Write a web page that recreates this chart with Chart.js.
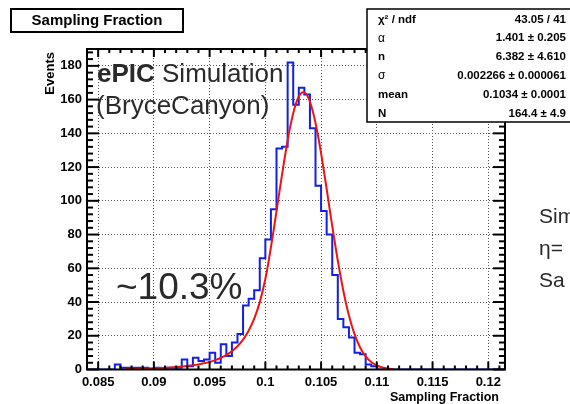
<!DOCTYPE html>
<html>
<head>
<meta charset="utf-8">
<script src="https://cdn.jsdelivr.net/npm/chart.js@4"></script>
<style>
  body { margin: 0; background: #fff; }
  canvas { display: block; }
</style>
</head>
<body>
<canvas id="sf-chart" width="570" height="404"></canvas>
<script>
// histogram: 0.0005 wide bins starting at 0.084
const histMin  = 0.084
const histMax  = 0.1215
const binWidth = 0.0005
const counts = [
  2, 0, 0, 0, 0, 0, 3, 1, 1, 1, 1, 1, 0, 1, 0, 1, 1, 1, 6, 2,
  7, 5, 6, 10, 4, 15, 8, 16, 21, 38, 42, 47, 66, 77, 95, 131, 132, 182, 157, 167,
  163, 143, 109, 94, 80, 56, 30, 25, 19, 10, 9, 3, 2, 0, 0, 0, 0, 0, 0, 0,
  0, 0, 0, 0, 0, 0, 0, 0, 0, 0, 0, 0, 0, 0, 0
]

// red fit curve
const fitX = [
  0.0875, 0.088, 0.0885, 0.089, 0.0895, 0.090, 0.0905, 0.091, 0.0915, 0.092,
  0.0925, 0.093, 0.0935, 0.094, 0.0945, 0.095, 0.0955, 0.096, 0.0965, 0.097,
  0.0975, 0.098, 0.0985, 0.099, 0.0995, 0.100, 0.10025, 0.1005, 0.10075, 0.101,
  0.10125, 0.1015, 0.10175, 0.102, 0.10225, 0.1025, 0.10275, 0.103, 0.10325, 0.1034,
  0.1035, 0.10375, 0.104, 0.10425, 0.1045, 0.10475, 0.105, 0.10525, 0.1055, 0.10575,
  0.106, 0.10625, 0.1065, 0.10675, 0.107, 0.10725, 0.1075, 0.10775, 0.108, 0.1085,
  0.109, 0.1095, 0.110, 0.1105, 0.111, 0.1115
]
const fitY = [
  0.37, 0.42, 0.49, 0.56, 0.65, 0.76, 0.89, 1.05, 1.24, 1.46,
  1.74, 2.09, 2.51, 3.03, 3.69, 4.51, 5.56, 6.90, 8.62, 10.87,
  13.81, 17.73, 22.97, 30.11, 39.94, 53.69, 62.55, 72.48, 82.96, 93.83,
  104.82, 115.67, 126.11, 135.83, 144.55, 151.93, 157.77, 161.86, 164.04, 164.4,
  164.24, 162.45, 158.74, 153.23, 146.13, 137.66, 128.13, 117.81, 107.01, 96.01,
  85.12, 74.54, 64.49, 55.12, 46.54, 38.82, 31.99, 26.04, 20.94, 13.06,
  7.76, 4.39, 2.36, 1.21, 0.59, 0.28
]

const xTicks = [0.085, 0.09, 0.095, 0.1, 0.105, 0.11, 0.115, 0.12]
const yTicks = [0, 20, 40, 60, 80, 100, 120, 140, 160, 180]

const statLabels = ['χ² / ndf', 'α', 'n', 'σ', 'mean', 'N']
const statValues = ['43.05 / 41', '1.401 ± 0.205', '6.382 ± 4.610',
                    '0.002266 ± 0.000061', '0.1034 ± 0.0001', '164.4 ± 4.9']
const sideLines = ['Sim', 'η=', 'Sa']

const FONT = '"Liberation Sans", Arial, Helvetica, sans-serif'

const histPoints = counts.map((c, i) => ({ x: histMin + i * binWidth, y: c }))
histPoints.push({ x: histMin + counts.length * binWidth, y: counts[counts.length - 1] })
const fitPoints = fitX.map((x, i) => ({ x, y: fitY[i] }))

function line(ctx, x1, y1, x2, y2) {
  ctx.beginPath()
  ctx.moveTo(x1, y1)
  ctx.lineTo(x2, y2)
  ctx.stroke()
}

// ROOT-ish decorations: inward ticks, frame, labels, boxes
const decor = {
  id: 'decor',
  afterDatasetsDraw(chart) {
    const { ctx, chartArea: a, scales: { x, y } } = chart
    ctx.save()
    ctx.strokeStyle = '#000'
    ctx.lineWidth = 2

    for (let v = 0; v <= 190; v += 4) {
      const py = y.getPixelForValue(v)
      const len = v % 20 === 0 ? 12 : 6
      line(ctx, a.left, py, a.left + len, py)
      line(ctx, a.right, py, a.right - len, py)
    }
    for (let i = 85; i <= 121; i++) {
      const px = x.getPixelForValue(i / 1000)
      const len = i % 5 === 0 ? 8 : 4
      line(ctx, px, a.bottom, px, a.bottom - len)
      line(ctx, px, a.top, px, a.top + len)
    }
    ctx.strokeRect(a.left, a.top, a.right - a.left, a.bottom - a.top)

    // axis titles
    ctx.fillStyle = '#000'
    ctx.font = `bold 12.5px ${FONT}`
    ctx.textAlign = 'right'
    ctx.textBaseline = 'middle'
    ctx.fillText('Sampling Fraction', 499, 398)
    ctx.save()
    ctx.translate(50, 52)
    ctx.rotate(-Math.PI / 2)
    ctx.font = `bold 13px ${FONT}`
    ctx.fillText('Events', 0, 0)
    ctx.restore()

    // annotations
    ctx.fillStyle = '#2a2a2a'
    ctx.textAlign = 'left'
    ctx.textBaseline = 'alphabetic'
    ctx.font = `bold 26px ${FONT}`
    ctx.fillText('ePIC', 97, 82)
    const w = ctx.measureText('ePIC ').width
    ctx.font = `26px ${FONT}`
    ctx.fillText('Simulation', 97 + w, 82)
    ctx.fillText('(BryceCanyon)', 96, 114)
    ctx.font = `37px ${FONT}`
    ctx.fillText('~10.3%', 116, 299)
    ctx.font = `21px ${FONT}`
    sideLines.forEach((t, i) => ctx.fillText(t, 539, 223 + i * 32))

    // title box
    ctx.fillStyle = '#fff'
    ctx.fillRect(11, 9, 172, 23)
    ctx.strokeRect(11, 9, 172, 23)
    ctx.fillStyle = '#000'
    ctx.font = `bold 15px ${FONT}`
    ctx.textAlign = 'center'
    ctx.textBaseline = 'middle'
    ctx.fillText('Sampling Fraction', 97, 21)

    // stats box
    ctx.fillStyle = '#fff'
    ctx.fillRect(367, 9, 210, 113)
    ctx.lineWidth = 1.5
    ctx.strokeRect(367, 9, 210, 113)
    ctx.fillStyle = '#000'
    statLabels.forEach((t, i) => {
      const ry = 19.5 + i * 18.8
      ctx.textAlign = 'left'
      ctx.font = (t === 'α' || t === 'σ') ? `12px ${FONT}` : `bold 11.5px ${FONT}`
      ctx.fillText(t, 378, ry)
      ctx.textAlign = 'right'
      ctx.font = `bold 11.5px ${FONT}`
      ctx.fillText(statValues[i], 566, ry)
    })
    ctx.restore()
  }
}

new Chart(document.getElementById('sf-chart').getContext('2d'), {
  type: 'line',
  data: {
    datasets: [
      {
        data: fitPoints,
        borderColor: '#ee1414',
        borderWidth: 2,
        pointRadius: 0,
        cubicInterpolationMode: 'monotone',
        fill: false
      },
      {
        data: histPoints,
        borderColor: '#1020e6',
        borderWidth: 2,
        pointRadius: 0,
        stepped: 'after',
        fill: false
      }
    ]
  },
  options: {
    responsive: false,
    animation: false,
    devicePixelRatio: 1,
    layout: { padding: { left: 0, top: 49, right: 65, bottom: 0 } },
    plugins: { legend: { display: false }, tooltip: { enabled: false } },
    scales: {
      x: {
        type: 'linear',
        min: histMin,
        max: histMax,
        afterBuildTicks: s => { s.ticks = xTicks.map(v => ({ value: v })) },
        afterFit: s => { s.height = 34.5 },
        grid: { color: '#555', lineWidth: 1, drawTicks: false },
        border: { display: false, dash: [1, 2] },
        ticks: {
          color: '#000',
          padding: 5,
          maxRotation: 0,
          autoSkip: false,
          font: { family: FONT, size: 13, weight: 'bold' },
          callback: v => String(+v.toFixed(3))
        }
      },
      y: {
        min: 0,
        max: 190,
        afterBuildTicks: s => { s.ticks = yTicks.map(v => ({ value: v })) },
        afterFit: s => { s.width = 87 },
        grid: { color: '#555', lineWidth: 1, drawTicks: false },
        border: { display: false, dash: [1, 2] },
        ticks: {
          color: '#000',
          padding: 5,
          autoSkip: false,
          font: { family: FONT, size: 13, weight: 'bold' }
        }
      }
    }
  },
  plugins: [decor]
})
</script>
</body>
</html>
